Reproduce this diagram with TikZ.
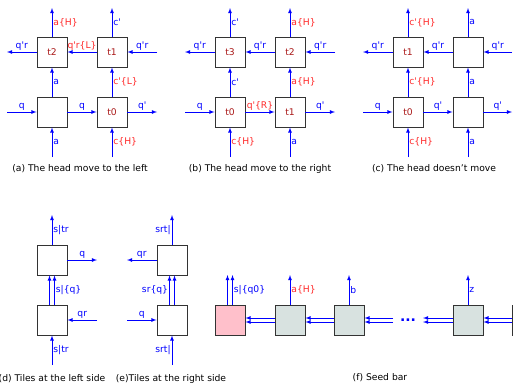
\documentclass[tikz,border=0pt]{standalone}
\usepackage{fontspec}
\setmainfont{DejaVu Sans}
\usetikzlibrary{positioning}

\definecolor{tilered}{RGB}{170,25,25}
\definecolor{gluered}{RGB}{255,40,40}
\definecolor{seedgray}{RGB}{216,226,224}
\definecolor{seedpink}{RGB}{255,192,203}
\newcommand{\apos}{\textquotesingle}

\begin{document}
\begin{tikzpicture}[x=1pt, y=-1pt, font=\fontsize{9.2}{10}\selectfont,
	tile/.style={draw=black!80, line width=0.9pt, fill=white, minimum size=30pt, inner sep=0pt, text=tilered},
	wire/.style={draw=blue, line width=0.8pt, -latex},
	lab/.style={text=blue, inner sep=1pt},
	hot/.style={text=gluered, inner sep=1pt}]
	\clip (0, 0) rectangle (513, 389);
	% (a) head moves left:
	\node[tile] (a2) at (52, 52) {t2};
	\node[tile] (a1) at (112, 52) {t1};
	\node[tile] (a3) at (52, 112) {};
	\node[tile] (a0) at (112, 112) {t0};
	\coordinate (a2n) at (52, 8);
	\coordinate (a1n) at (112, 8);
	\coordinate (a2w) at (7, 52);
	\coordinate (a1e) at (157, 52);
	\coordinate (a3w) at (7, 112);
	\coordinate (a0e) at (157, 112);
	\coordinate (a3s) at (52, 157);
	\coordinate (a0s) at (112, 157);
	\draw[wire] (a2) -- (a2n) node[midway, right, hot]{a\{H\}};
	\draw[wire] (a1) -- (a1n) node[midway, right, lab]{c\apos};
	\draw[wire] (a2) -- (a2w) node[midway, above, lab]{q\apos r};
	\draw[wire] (a1) -- (a2) node[midway, above, hot]{q\apos r\{L\}};
	\draw[wire] (a1e) -- (a1) node[midway, above, lab]{q\apos r};
	\draw[wire] (a3) -- (a2) node[midway, right, lab]{a};
	\draw[wire] (a0) -- (a1) node[midway, right, hot]{c\apos\{L\}};
	\draw[wire] (a3w) -- (a3) node[midway, above, lab]{q};
	\draw[wire] (a3) -- (a0) node[midway, above, lab]{q};
	\draw[wire] (a0) -- (a0e) node[midway, above, lab]{q\apos};
	\draw[wire] (a3s) -- (a3) node[midway, right, lab]{a};
	\draw[wire] (a0s) -- (a0) node[midway, right, hot]{c\{H\}};
	\node (capA) at (80, 169) {(a) The head move to the left};
	% (b) head moves right:
	\node[tile] (b3) at (230, 52) {t3};
	\node[tile] (b2) at (290, 52) {t2};
	\node[tile] (b0) at (230, 112) {t0};
	\node[tile] (b1) at (290, 112) {t1};
	\coordinate (b3n) at (230, 8);
	\coordinate (b2n) at (290, 8);
	\coordinate (b3w) at (185, 52);
	\coordinate (b2e) at (335, 52);
	\coordinate (b0w) at (185, 112);
	\coordinate (b1e) at (335, 112);
	\coordinate (b0s) at (230, 157);
	\coordinate (b1s) at (290, 157);
	\draw[wire] (b3) -- (b3n) node[midway, right, lab]{c\apos};
	\draw[wire] (b2) -- (b2n) node[midway, right, hot]{a\{H\}};
	\draw[wire] (b3) -- (b3w) node[midway, above, lab]{q\apos r};
	\draw[wire] (b2) -- (b3) node[midway, above, lab]{q\apos r};
	\draw[wire] (b2e) -- (b2) node[midway, above, lab]{q\apos r};
	\draw[wire] (b0) -- (b3) node[midway, right, lab]{c\apos};
	\draw[wire] (b1) -- (b2) node[midway, right, hot]{a\{H\}};
	\draw[wire] (b0w) -- (b0) node[midway, above, lab]{q};
	\draw[wire] (b0) -- (b1) node[midway, above, hot]{q\apos\{R\}};
	\draw[wire] (b1) -- (b1e) node[midway, above, lab]{q\apos};
	\draw[wire] (b0s) -- (b0) node[midway, right, hot]{c\{H\}};
	\draw[wire] (b1s) -- (b1) node[midway, right, lab]{a};
	\node (capB) at (260, 169) {(b) The head move to the right};
	% (c) head stays:
	\node[tile] (c1) at (408, 52) {t1};
	\node[tile] (c4) at (468, 52) {};
	\node[tile] (c0) at (408, 112) {t0};
	\node[tile] (c5) at (468, 112) {};
	\coordinate (c1n) at (408, 8);
	\coordinate (c4n) at (468, 8);
	\coordinate (c1w) at (363, 52);
	\coordinate (c4e) at (512, 52);
	\coordinate (c0w) at (363, 112);
	\coordinate (c5e) at (512, 112);
	\coordinate (c0s) at (408, 157);
	\coordinate (c5s) at (468, 157);
	\draw[wire] (c1) -- (c1n) node[midway, right, hot]{c\apos\{H\}};
	\draw[wire] (c4) -- (c4n) node[midway, right, lab]{a};
	\draw[wire] (c1) -- (c1w) node[midway, above, lab]{q\apos r};
	\draw[wire] (c4) -- (c1) node[midway, above, lab]{q\apos r};
	\draw[wire] (c4e) -- (c4) node[midway, above, lab]{q\apos r};
	\draw[wire] (c0) -- (c1) node[midway, right, hot]{c\apos\{H\}};
	\draw[wire] (c5) -- (c4) node[midway, right, lab]{a};
	\draw[wire] (c0w) -- (c0) node[midway, above, lab]{q};
	\draw[wire] (c0) -- (c5) node[midway, above, lab]{q\apos};
	\draw[wire] (c5) -- (c5e) node[midway, above, lab]{q\apos};
	\draw[wire] (c0s) -- (c0) node[midway, right, hot]{c\{H\}};
	\draw[wire] (c5s) -- (c5) node[midway, right, lab]{a};
	\node (capC) at (434, 169) {(c) The head doesn't move};
	% (d) left side tiles:
	\node[tile] (d1) at (52, 260) {};
	\node[tile] (d0) at (52, 320) {};
	\coordinate (d1n) at (52, 215);
	\coordinate (d1e) at (97, 260);
	\coordinate (d0e) at (97, 320);
	\coordinate (d0s) at (52, 365);
	\draw[wire] (d1) -- (d1n) node[midway, right, lab]{s|tr};
	\draw[wire] (d1) -- (d1e) node[midway, above, lab]{q};
	\draw[wire] ([xshift=-2.5pt]d0.north) -- ([xshift=-2.5pt]d1.south);
	\draw[wire] ([xshift=2.5pt]d0.north) -- ([xshift=2.5pt]d1.south) node[midway, right, lab]{s|\{q\}};
	\draw[wire] (d0e) -- (d0) node[midway, above, lab]{qr};
	\draw[wire] (d0s) -- (d0) node[midway, right, lab]{s|tr};
	\node (capD) at (52, 379) {(d) Tiles at the left side};
	% (e) right side tiles:
	\node[tile] (e1) at (172, 260) {};
	\node[tile] (e0) at (172, 320) {};
	\coordinate (e1n) at (172, 215);
	\coordinate (e1w) at (127, 260);
	\coordinate (e0w) at (127, 320);
	\coordinate (e0s) at (172, 365);
	\draw[wire] (e1) -- (e1n) node[midway, left, lab]{srt|};
	\draw[wire] (e1) -- (e1w) node[midway, above, lab]{qr};
	\draw[wire] ([xshift=-2.5pt]e0.north) -- ([xshift=-2.5pt]e1.south) node[midway, left, lab]{sr\{q\}};
	\draw[wire] ([xshift=2.5pt]e0.north) -- ([xshift=2.5pt]e1.south);
	\draw[wire] (e0w) -- (e0) node[midway, above, lab]{q};
	\draw[wire] (e0s) -- (e0) node[midway, left, lab]{srt|};
	\node (capE) at (171, 379) {(e)Tiles at the right side};
	% (f) seed bar:
	\node[tile, fill=seedpink] (f0) at (230, 320) {};
	\node[tile, fill=seedgray] (f1) at (290, 320) {};
	\node[tile, fill=seedgray] (f2) at (349, 320) {};
	\node[tile, fill=seedgray] (f3) at (468, 320) {};
	\node[tile, fill=seedgray] (f4) at (527, 320) {};
	\node[text=blue, font=\fontsize{14}{14}\selectfont\bfseries] (dots) at (408, 320) {...};
	\coordinate (f0n) at (230, 275);
	\coordinate (f1n) at (290, 275);
	\coordinate (f2n) at (349, 275);
	\coordinate (f3n) at (468, 275);
	\coordinate (f2r) at (393, 320);
	\coordinate (f3l) at (423, 320);
	\draw[wire] ([xshift=-2.5pt]f0.north) -- ([xshift=-2.5pt]f0n);
	\draw[wire] ([xshift=2.5pt]f0.north) -- ([xshift=2.5pt]f0n) node[midway, right, lab]{s|\{q0\}};
	\draw[wire] (f1) -- (f1n) node[midway, right, hot]{a\{H\}};
	\draw[wire] (f2) -- (f2n) node[midway, right, lab]{b};
	\draw[wire] (f3) -- (f3n) node[midway, right, lab]{z};
	\foreach \from/\to in {f1.west/f0.east, f2.west/f1.east, f2r/f2.east, f3.west/f3l, f4.west/f3.east} {
		\draw[wire] ([yshift=2pt]\from) -- ([yshift=2pt]\to);
		\draw[wire] ([yshift=-2pt]\from) -- ([yshift=-2pt]\to);
	}
	\node (capF) at (380, 378) {(f) Seed bar};
\end{tikzpicture}
\end{document}
